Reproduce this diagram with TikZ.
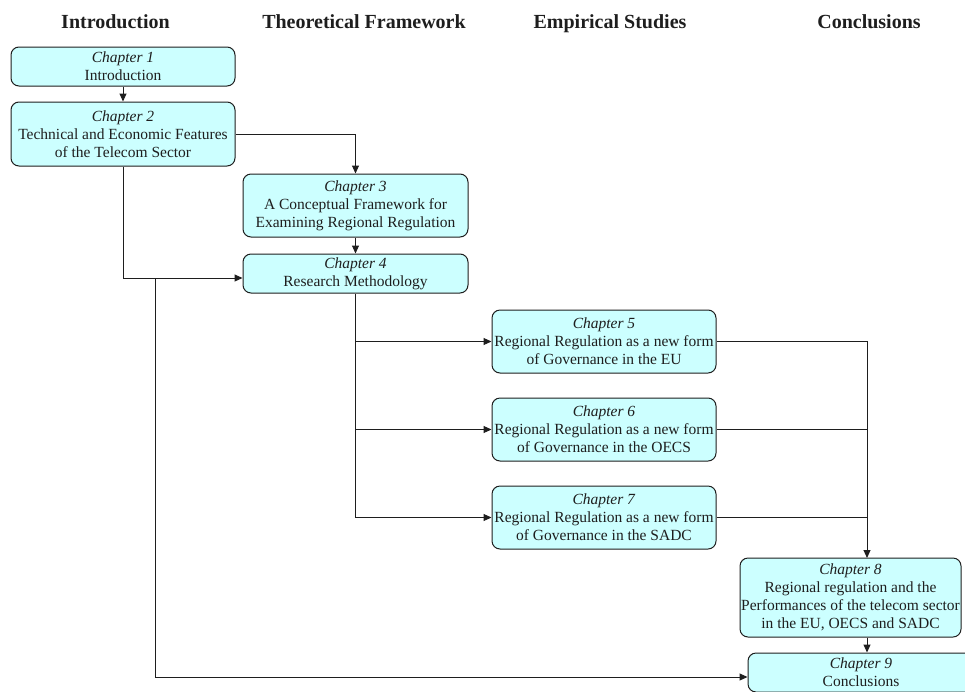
\documentclass[tikz,border=0pt]{standalone}
\usepackage{fontspec}
\setmainfont{Liberation Serif}
\usetikzlibrary{arrows.meta}
\definecolor{boxfill}{RGB}{204,255,255}
\definecolor{ink}{RGB}{30,30,30}
\begin{document}
\begin{tikzpicture}[x=1pt,y=-1pt,
  chapbox/.style={draw=ink, line width=1pt, fill=boxfill, rounded corners=8pt,
    align=center, font=\fontsize{15.5}{18}\selectfont, inner sep=0pt, text=ink},
  head/.style={font=\fontsize{20}{24}\selectfont\bfseries, anchor=base, text=ink},
  link/.style={line width=1pt, draw=ink},
  arr/.style={link, -{Triangle[length=8pt,width=7pt]}}
]
\useasboundingbox (0,0) rectangle (965,691);

% column headings
\node[head] (h1) at (115.5,28) {Introduction};
\node[head] (h2) at (364,28) {Theoretical Framework};
\node[head] (h3) at (610,28) {Empirical Studies};
\node[head] (h4) at (869,28) {Conclusions};

% chapters
\node[chapbox, minimum width=224pt, minimum height=39pt] (ch1) at (123,66.5)
  {\textit{Chapter 1}\\Introduction};
\node[chapbox, minimum width=224pt, minimum height=64pt] (ch2) at (123,134)
  {\textit{Chapter 2}\\Technical and Economic Features\\of the Telecom Sector};
\node[chapbox, minimum width=225pt, minimum height=63pt] (ch3) at (355.5,205.5)
  {\textit{Chapter 3}\\A Conceptual Framework for\\Examining Regional Regulation};
\node[chapbox, minimum width=225pt, minimum height=39pt] (ch4) at (355.5,273.5)
  {\textit{Chapter 4}\\Research Methodology};
\node[chapbox, minimum width=224pt, minimum height=63pt] (ch5) at (604,341.5)
  {\textit{Chapter 5}\\Regional Regulation as a new form\\of Governance in the EU};
\node[chapbox, minimum width=224pt, minimum height=63pt] (ch6) at (604,429.5)
  {\textit{Chapter 6}\\Regional Regulation as a new form\\of Governance in the OECS};
\node[chapbox, minimum width=224pt, minimum height=63pt] (ch7) at (604,517.5)
  {\textit{Chapter 7}\\Regional Regulation as a new form\\of Governance in the SADC};
\node[chapbox, minimum width=221pt, minimum height=79pt] (ch8) at (850.5,597.5)
  {\textit{Chapter 8}\\Regional regulation and the\\Performances of the telecom sector\\in the EU, OECS and SADC};
\node[chapbox, minimum width=226pt, minimum height=39pt] (ch9) at (861,672.5)
  {\textit{Chapter 9}\\Conclusions};

% connectors
\draw[arr] (ch1) -- (ch2);
\draw[arr] (ch2.east) -| (ch3.north);
\draw[arr] (ch3) -- (ch4);
\draw[arr] (ch2.south) |- ([yshift=-4.5pt]ch4.west);
\coordinate (split) at (155,278);
\draw[arr] (split) |- ([yshift=-4.5pt]ch9.west);

\draw[link] (ch4.south) -- (ch4.south |- ch7.west);
\draw[arr] (ch4.south |- ch5.west) -- (ch5.west);
\draw[arr] (ch4.south |- ch6.west) -- (ch6.west);
\draw[arr] (ch4.south |- ch7.west) -- (ch7.west);

\coordinate (j8) at (867,558);
\draw[link] (ch5.east) -| (j8 |- ch7.east);
\draw[link] (ch6.east) -- (ch6.east -| j8);
\draw[arr] (ch7.east) -| (j8);
\draw[arr] (j8 |- ch8.south) -- (j8 |- ch9.north);
\end{tikzpicture}
\end{document}
